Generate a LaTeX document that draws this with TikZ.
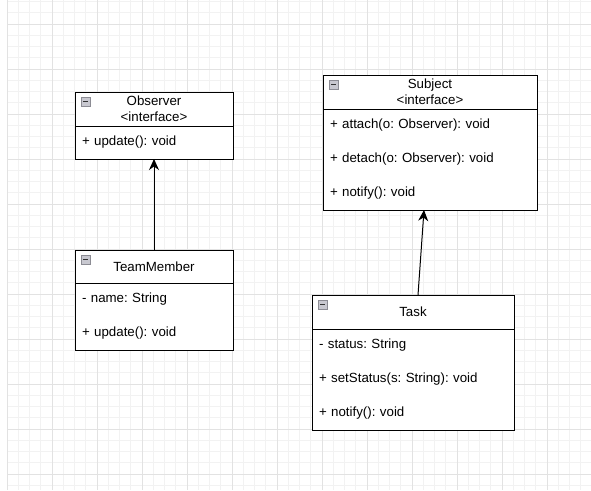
\documentclass[tikz,border=0pt]{standalone}
\usepackage{fontspec}
\setmainfont{Liberation Sans}
\usepackage{tikz}
\usetikzlibrary{positioning}
\usetikzlibrary{arrows.meta}
\definecolor{GridMinor}{HTML}{F2F2F2}
\definecolor{GridMajor}{HTML}{E2E2E2}
\definecolor{IconFill}{HTML}{C8C8D0}
\definecolor{IconEdge}{HTML}{8C8C94}
\frenchspacing

\tikzset{
  umlhead/.style={draw, line width=1pt, fill=white, inner sep=0pt, outer sep=0pt,
    minimum width=#1, minimum height=34pt, align=center,
    font=\fontsize{13.3}{16}\selectfont},
  umlbody/.style={draw, line width=1pt, fill=white, inner xsep=7pt, inner ysep=0pt,
    outer sep=0pt, text width=#1, align=left,
    font=\fontsize{13.3}{34}\selectfont},
  realizes/.style={line width=1pt, -{Stealth[length=11pt,width=10pt,inset=3.5pt]}},
}

% small collapse mark in the top left corner of a class header
\newcommand{\collapsebox}[1]{%
  \draw[IconEdge, fill=IconFill, line width=0.8pt]
    ([shift={(6,5)}]#1.north west) rectangle ([shift={(15,14)}]#1.north west);
  \draw[black!80, line width=1.5pt]
    ([shift={(8,9.5)}]#1.north west) -- ([shift={(13,9.5)}]#1.north west);
}

\begin{document}
\begin{tikzpicture}[x=1pt, y=-1pt]
    \useasboundingbox (0,0) rectangle (591,490);
    % Grid
    \fill[white] (0,0) rectangle (591,490);
    \foreach \i in {0,...,52}
      \draw[GridMinor, line width=1pt] ({7+11.25*\i},0) -- ({7+11.25*\i},490);
    \foreach \j in {0,...,43}
      \draw[GridMinor, line width=1pt] (7,{1.5+11.25*\j}) -- (591,{1.5+11.25*\j});
    \foreach \i in {0,...,13}
      \draw[GridMajor, line width=1pt] ({7+45*\i},0) -- ({7+45*\i},490);
    \foreach \j in {0,...,10}
      \draw[GridMajor, line width=1pt] (7,{24+45*\j}) -- (591,{24+45*\j});
    % Interfaces
    \node[umlhead=158pt, anchor=north west] (obsHead) at (75,92) {Observer\\<interface>};
    \node[umlbody=144pt, minimum height=33pt, below=0pt of obsHead] (obsBody)
      {+ update(): void};
    \node[umlhead=214pt, anchor=north west] (subjHead) at (323,75) {Subject\\<interface>};
    \node[umlbody=200pt, minimum height=101pt, below=0pt of subjHead] (subjBody)
      {+ attach(o: Observer): void\\+ detach(o: Observer): void\\+ notify(): void};
    % Classes
    \node[umlhead=158pt, minimum height=33pt, anchor=north west] (tmHead) at (75,250) {TeamMember};
    \node[umlbody=144pt, minimum height=67pt, below=0pt of tmHead] (tmBody)
      {- name: String\\+ update(): void};
    \node[umlhead=202pt, anchor=north west] (taskHead) at (312,295) {Task};
    \node[umlbody=188pt, minimum height=101pt, below=0pt of taskHead] (taskBody)
      {- status: String\\+ setStatus(s: String): void\\+ notify(): void};
    \collapsebox{obsHead}
    \collapsebox{subjHead}
    \collapsebox{tmHead}
    \collapsebox{taskHead}
    % Realisations
    \draw[realizes] (tmHead.north) -- (obsBody.south);
    \draw[realizes] ([xshift=5pt]taskHead.north) -- ([xshift=-6pt]subjBody.south);
  \end{tikzpicture}
\end{document}
